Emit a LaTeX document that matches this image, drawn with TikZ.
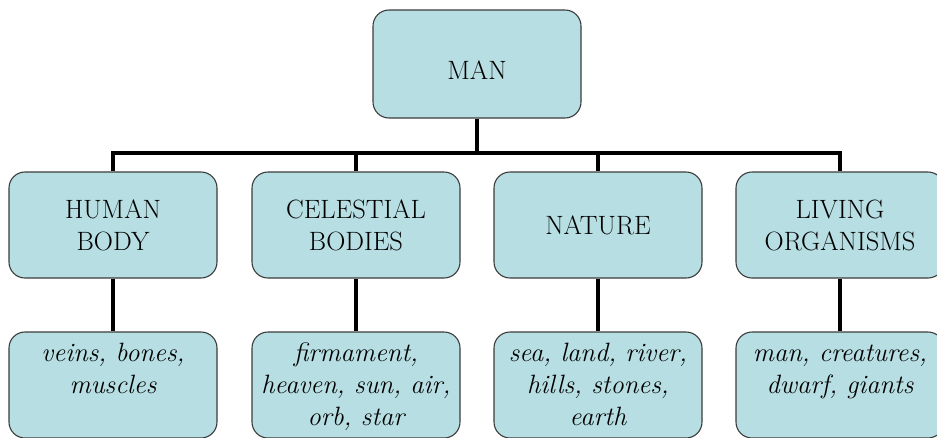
\documentclass[tikz,border=0pt]{standalone}
\usepackage{tikz}
\usetikzlibrary{positioning}
\definecolor{boxFill}{RGB}{183,222,226}
\definecolor{boxEdge}{RGB}{60,60,60}
\newcommand{\leafstrut}{\rule{0pt}{21pt}}

\begin{document}
\begin{tikzpicture}[x=1pt,y=1pt,
    topicbox/.style={draw=boxEdge,fill=boxFill,rounded corners=16pt,line width=1.1pt,
          minimum width=208pt,minimum height=106pt,align=center,
          font=\fontsize{26.5}{32}\selectfont},
    leaftext/.style={inner sep=0pt,align=center,
          font=\fontsize{26.5}{32}\selectfont\itshape},
    link/.style={line width=4.5pt,black}]

    \clip (0,0) rectangle (937,-437);

    % ── TOPO ──────────────────────────────────────────────
    \node[topicbox,minimum height=108pt,text height=30pt,text depth=0pt] (man) at (477,-64){MAN};
    \coordinate (bar) at (477,-153);

    % ── CATEGORIAS ────────────────────────────────────────
    \node[topicbox] (b1) at (113,-225){HUMAN\\BODY};
    \node[topicbox] (b2) at (356,-225){CELESTIAL\\BODIES};
    \node[topicbox] (b3) at (598,-225){NATURE};
    \node[topicbox] (b4) at (840,-225){LIVING\\ORGANISMS};

    % ── EXEMPLOS ──────────────────────────────────────────
    \foreach \i/\x in {1/113,2/356,3/598,4/840}{
      \node[topicbox] (l\i) at (\x,-385){};
    }
    \node[leaftext,below=9pt of l1.north] (t1){\leafstrut veins, bones,\\muscles};
    \node[leaftext,below=9pt of l2.north] (t2){\leafstrut firmament,\\heaven, sun, air,\\orb, star};
    \node[leaftext,below=9pt of l3.north] (t3){\leafstrut sea, land, river,\\hills, stones,\\earth};
    \node[leaftext,below=9pt of l4.north] (t4){\leafstrut man, creatures,\\dwarf, giants};

    % Ligacoes
    \draw[link] (man.south)--(bar);
    \foreach \i in {1,...,4}{
      \draw[link] (bar) -| (b\i.north);
      \draw[link] (b\i.south)--(l\i.north);
    }

\end{tikzpicture}
\end{document}
